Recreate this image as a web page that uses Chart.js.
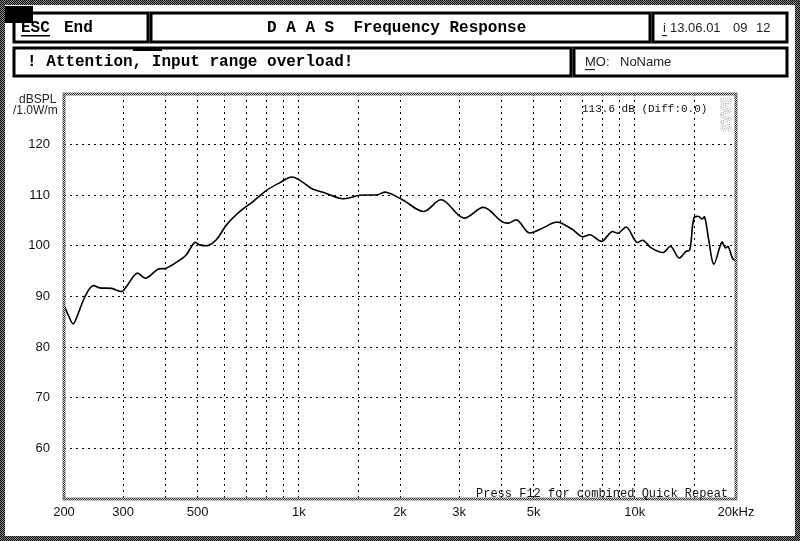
<!DOCTYPE html>
<html>
<head>
<meta charset="utf-8">
<script src="https://cdn.jsdelivr.net/npm/chart.js@4.4.0/dist/chart.umd.min.js"></script>
<style>
  html, body { margin: 0; padding: 0; background: #fff; }
  #wrap { width: 800px; height: 541px; }
</style>
</head>
<body>
<div id="wrap"><canvas id="chart"></canvas></div>
<script>
const freqs = [200, 207, 213, 220, 231, 243, 256, 277, 297, 307, 330, 350, 381, 403, 442, 462, 490, 506, 538, 568,
  610, 668, 732, 803, 879, 952, 1020, 1094, 1203, 1354, 1521, 1711, 1820, 2046, 2354, 2660, 3090, 3548, 4021, 4210,
  4460, 4836, 5230, 5758, 5980, 6530, 6970, 7370, 7970, 8530, 8930, 9450, 10120, 10580, 11190, 12150, 12790, 13530,
  14200, 14570, 14990, 15480, 15840, 16130, 16590, 17180, 18150, 18600, 18950, 19580, 20000];
const levels = [88.3, 86.0, 84.6, 86.5, 90.0, 92.1, 91.7, 91.6, 91.0, 92.0, 94.6, 93.6, 95.4, 95.6, 97.2, 98.2, 100.7, 100.2, 100.1, 101.2,
  104.2, 106.8, 108.8, 111.0, 112.5, 113.6, 112.7, 111.3, 110.4, 109.3, 110.0, 110.1, 110.6, 109.0, 106.8, 109.1, 105.5, 107.6, 104.8, 104.5,
  105.1, 102.6, 103.3, 104.6, 104.6, 103.2, 101.8, 102.2, 100.9, 102.8, 102.5, 103.7, 100.7, 101.1, 99.6, 98.7, 99.9, 97.6,
  98.9, 99.2, 105.5, 105.8, 105.3, 105.7, 101.2, 96.4, 100.7, 99.6, 99.9, 97.4, 97.1];

// frequency grid lines and the ones that carry a label
const xGridTicks = [200, 300, 400, 500, 600, 700, 800, 900, 1000, 1500, 2000, 3000, 4000, 5000, 6000, 7000, 8000, 9000, 10000, 15000, 20000];
const xLabelValues = [200, 300, 500, 1000, 2000, 3000, 5000, 10000, 20000];
const xLabelTexts = ['200', '300', '500', '1k', '2k', '3k', '5k', '10k', '20kHz'];
const yLabelValues = [60, 70, 80, 90, 100, 110, 120];

const MONO = '"Liberation Mono", "DejaVu Sans Mono", monospace';
const SANS = '"Liberation Sans", "DejaVu Sans", sans-serif';

// 2x2 checker used for the dithered frames
function dither(ctx, a, b) {
  const c = document.createElement('canvas');
  c.width = 2; c.height = 2;
  const g = c.getContext('2d');
  g.fillStyle = b; g.fillRect(0, 0, 2, 2);
  g.fillStyle = a; g.fillRect(0, 0, 1, 1); g.fillRect(1, 1, 1, 1);
  return ctx.createPattern(c, 'repeat');
}

function text(ctx, str, x, y, font, align) {
  ctx.font = font;
  ctx.textAlign = align || 'left';
  ctx.textBaseline = 'middle';
  ctx.fillText(str, x, y);
}

const screenPlugin = {
  id: 'screen',
  beforeDraw(chart) {
    const ctx = chart.ctx;
    ctx.save();
    ctx.fillStyle = '#fff';
    ctx.fillRect(0, 0, chart.width, chart.height);

    // outer dithered frame
    ctx.fillStyle = dither(ctx, '#000', '#888');
    ctx.fillRect(0, 0, 800, 5);
    ctx.fillRect(0, 536, 800, 5);
    ctx.fillRect(0, 0, 5, 541);
    ctx.fillRect(795, 0, 5, 541);

    // header boxes
    ctx.strokeStyle = '#000';
    ctx.lineWidth = 3;
    [[14, 13, 134, 29], [151, 13, 499, 29], [653, 13, 134, 29], [14, 48, 557, 28], [574, 48, 213, 28]]
      .forEach(b => ctx.strokeRect(b[0], b[1], b[2], b[3]));

    // black corner marker and tab
    ctx.fillStyle = '#000';
    ctx.fillRect(5, 6, 28, 17);
    ctx.fillRect(133, 47, 29, 4);

    ctx.fillStyle = '#000';
    const bold = 'bold 16px ' + MONO;
    text(ctx, 'ESC', 21, 28, bold);
    ctx.fillRect(21, 35, 29, 1.5);
    text(ctx, 'End', 64, 28, bold);
    text(ctx, 'D A A S  Frequency Response', 267, 28, bold);
    text(ctx, '! Attention, Input range overload!', 27, 62, bold);

    ctx.fillStyle = '#222';
    const thin = '13px ' + SANS;
    text(ctx, 'i', 663, 28, thin);
    ctx.fillRect(662, 35, 5, 1.2);
    text(ctx, '13.06.01', 670, 28, thin);
    text(ctx, '09', 733, 28, thin);
    text(ctx, '12', 756, 28, thin);
    text(ctx, 'MO:', 585, 62, thin);
    ctx.fillRect(585, 69, 10, 1.2);
    text(ctx, 'NoName', 620, 62, thin);

    // axis unit
    text(ctx, 'dBSPL', 19, 100, '12px ' + SANS);
    text(ctx, '/1.0W/m', 13, 111, '12px ' + SANS);
    ctx.restore();
  },
  afterDraw(chart) {
    const ctx = chart.ctx;
    const a = chart.chartArea;
    ctx.save();
    // dithered plot border
    ctx.strokeStyle = dither(ctx, '#333', '#ccc');
    ctx.lineWidth = 3;
    ctx.strokeRect(a.left, a.top, a.right - a.left, a.bottom - a.top);

    ctx.fillStyle = '#111';
    text(ctx, '113.6 dB (Diff:0.0)', 582, 109, '11px ' + MONO);
    text(ctx, 'Press F12 for combined Quick Repeat', 476, 494, '12px ' + MONO);

    // faint vertical logo
    ctx.translate(725, 98);
    ctx.rotate(Math.PI / 2);
    ctx.strokeStyle = '#999';
    ctx.lineWidth = 0.8;
    ctx.setLineDash([1, 1]);
    ctx.font = 'bold 14px ' + MONO;
    ctx.textBaseline = 'middle';
    ctx.strokeText('DAAS', 0, 0);
    ctx.restore();
  }
};

const ctx = document.getElementById('chart').getContext('2d');
new Chart(ctx, {
  type: 'line',
  data: {
    datasets: [{
      data: freqs.map((f, i) => ({ x: f, y: levels[i] })),
      borderColor: '#000',
      borderWidth: 1.6,
      pointRadius: 0,
      tension: 0.35,
      fill: false
    }]
  },
  options: {
    responsive: true,
    maintainAspectRatio: false,
    animation: false,
    layout: { padding: { left: 0, top: 94, right: 64, bottom: 0 } },
    plugins: { legend: { display: false }, tooltip: { enabled: false } },
    scales: {
      x: {
        type: 'logarithmic',
        min: 200,
        max: 20000,
        afterBuildTicks(scale) {
          scale.ticks = xGridTicks.map(v => ({ value: v }));
        },
        afterFit(scale) { scale.height = 42; },
        grid: {
          drawTicks: false,
          color: c => (c.tick && (c.tick.value === 200 || c.tick.value === 20000)) ? 'rgba(0,0,0,0)' : '#000',
          lineWidth: 1
        },
        border: { display: false, dash: [2, 4] },
        ticks: {
          autoSkip: false,
          maxRotation: 0,
          padding: 6,
          color: '#111',
          font: { family: SANS, size: 13 },
          callback(value) {
            const i = xLabelValues.indexOf(value);
            return i >= 0 ? xLabelTexts[i] : '';
          }
        }
      },
      y: {
        min: 50,
        max: 130,
        afterFit(scale) { scale.width = 64; },
        grid: {
          drawTicks: false,
          color: c => (c.tick && (c.tick.value === 50 || c.tick.value === 130)) ? 'rgba(0,0,0,0)' : '#000',
          lineWidth: 1
        },
        border: { display: false, dash: [2, 4] },
        ticks: {
          stepSize: 10,
          padding: 14,
          color: '#111',
          font: { family: SANS, size: 13 },
          callback(value) {
            return yLabelValues.includes(value) ? String(value) : '';
          }
        }
      }
    }
  },
  plugins: [screenPlugin]
});
</script>
</body>
</html>
